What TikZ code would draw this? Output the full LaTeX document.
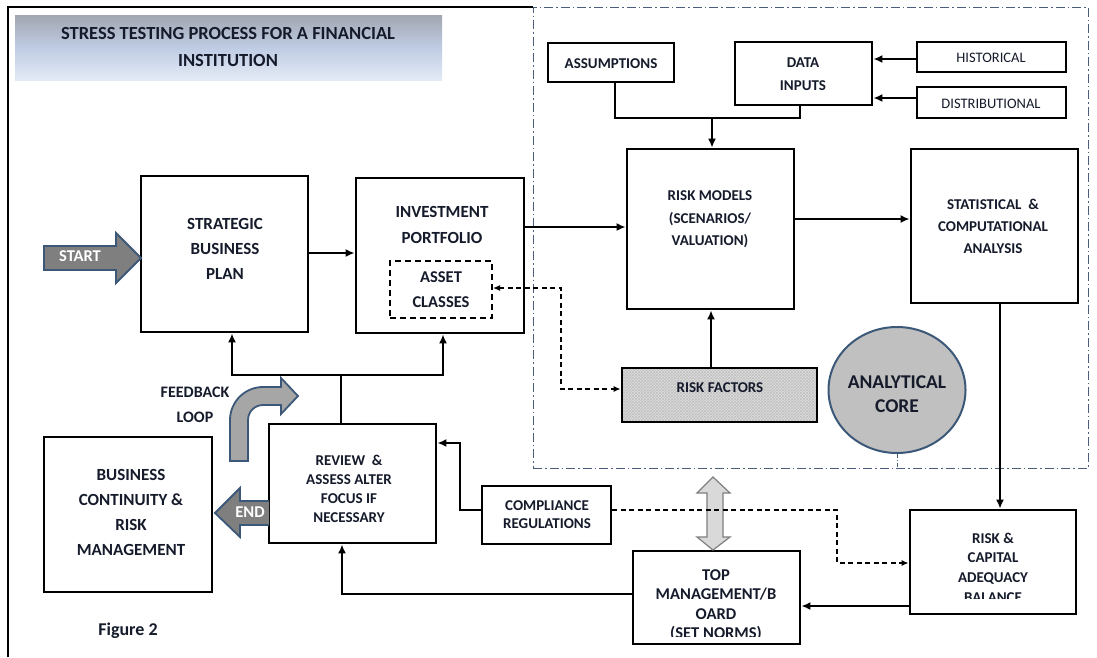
\documentclass[tikz,border=0pt]{standalone}
\usepackage{fontspec}
\setmainfont{Carlito}
\usetikzlibrary{arrows.meta,patterns,fit,shapes.geometric}
\definecolor{ddc}{HTML}{4A5E7A}
\definecolor{ablue}{HTML}{3B5878}
\definecolor{tgray}{HTML}{A2A6AF}
\definecolor{tblue}{HTML}{BFCCE4}
\definecolor{twhite}{HTML}{E4EAF5}
\definecolor{txt}{HTML}{151B2B}
\definecolor{agray}{HTML}{7F7F7F}
\definecolor{fgray}{HTML}{A6A6A6}
\definecolor{cgray}{HTML}{C0C0C0}
\definecolor{dgray}{HTML}{D9D9D9}
\newcommand{\fsz}[2]{\fontsize{#1}{#2}\selectfont}
\begin{document}
\begin{tikzpicture}[x=1pt,y=-1pt,
  box/.style={draw, line width=2.8pt, inner sep=0pt},
  thinbox/.style={draw, line width=1.3pt, inner sep=0pt},
  lbl/.style={align=center, inner sep=0pt, text=txt},
  conn/.style={line width=2.6pt, -{Latex[length=9pt,width=8pt]}},
  tip/.style={-{Latex[length=7pt,width=6pt]}},
  dsh/.style={line width=1.3pt, dash pattern=on 5pt off 3.5pt},
  ddot/.style={draw=ddc, line width=1pt, dash pattern=on 9pt off 3pt on 1.5pt off 3pt},
  blockarrow/.style={fill=agray, draw=ablue, line width=1.8pt, line join=miter},
]
\useasboundingbox (0,0) rectangle (1097,657);
\fill[white] (0,0) rectangle (1097,657);

% outer frame
\draw[line width=1.5pt] (8,657) -- (8,7) -- (533,7);

% title
\node[fit={(15,15) (442,80)}, inner sep=0pt, top color=tgray, bottom color=twhite, middle color=tblue] (title) {};
\node[lbl, font=\bfseries\fsz{18.5}{27}] (title-t) at (228,46.5) {STRESS TESTING PROCESS FOR A FINANCIAL\\INSTITUTION};

% analytical core region
\node[ddot, fit={(533,7) (1088,468)}, inner sep=0pt] (region) {};

% top row
\node[box, fit={(548,43) (674,82)}] (assum) {};
\node[lbl, font=\bfseries\fsz{15}{20}] (assum-t) at (611,64) {ASSUMPTIONS};
\node[box, fit={(735,42) (872,105)}] (data) {};
\node[lbl, font=\bfseries\fsz{15}{23}] (data-t) at (803,74.5) {DATA\\INPUTS};
\node[thinbox, fit={(917,42) (1066,72)}] (hist) {};
\node[lbl, font=\fsz{14.5}{18}] (hist-t) at (991,58) {HISTORICAL};
\node[thinbox, fit={(917,87) (1066,118)}] (dist) {};
\node[lbl, font=\fsz{14.5}{18}] (dist-t) at (991,104) {DISTRIBUTIONAL};

% middle row
\node[box, fit={(141,176) (308,332)}] (sbp) {};
\node[lbl, font=\bfseries\fsz{17}{25}] (sbp-t) at (225,249) {STRATEGIC\\BUSINESS\\PLAN};
\node[box, fit={(356,178) (524,333)}] (inv) {};
\node[lbl, font=\bfseries\fsz{17}{26}] (inv-t) at (442,225) {INVESTMENT\\PORTFOLIO};
\node[draw, line width=2pt, dash pattern=on 6pt off 4pt, inner sep=0pt, fit={(390,261) (492,318)}] (asset) {};
\node[lbl, font=\bfseries\fsz{16.5}{25}] (asset-t) at (441,289.5) {ASSET\\CLASSES};
\node[box, fit={(627,149) (794,309)}] (risk) {};
\node[lbl, font=\bfseries\fsz{15}{22.5}] (risk-t) at (710,219.5) {RISK MODELS\\(SCENARIOS/\\VALUATION)};
\node[box, fit={(911,149) (1078,303)}] (stat) {};
\node[lbl, font=\bfseries\fsz{15}{22}] (stat-t) at (993,226) {STATISTICAL~~\&\\COMPUTATIONAL\\ANALYSIS};

\node[box, fit={(622,368) (817,422)}, preaction={fill=gray!25}, pattern=crosshatch, pattern color=gray!50] (rf) {};
\node[lbl, font=\bfseries\fsz{15}{20}] (rf-t) at (720,388) {RISK FACTORS};

\node[ellipse, draw=ablue, line width=2pt, fill=cgray, minimum width=137pt, minimum height=126pt, inner sep=0pt] (core) at (897,390) {};
\node[lbl, font=\bfseries\fsz{19.5}{24}] (core-t) at (897,394) {ANALYTICAL\\CORE};

% lower row
\node[box, fit={(44,437) (212,592)}] (bcm) {};
\node[lbl, font=\bfseries\fsz{17}{25}] (bcm-t) at (131,512.5) {BUSINESS\\CONTINUITY \&\\RISK\\MANAGEMENT};
\node[box, fit={(269,424) (436,543)}] (review) {};
\node[lbl, font=\bfseries\fsz{15}{19}] (review-t) at (349,488.5) {REVIEW~~\&\\ASSESS ALTER\\FOCUS IF\\NECESSARY};
\node[box, fit={(482,486) (611,544)}] (comp) {};
\node[lbl, font=\bfseries\fsz{15}{18}] (comp-t) at (547,515) {COMPLIANCE\\REGULATIONS};
\node[box, fit={(910,510) (1076,614)}] (rcap) {};
\node[lbl, font=\bfseries\fsz{15}{19.5}] (rcap-t) at (993,558.5) {RISK \&\\CAPITAL\\ADEQUACY};
\begin{scope}
  \clip (912,560) rectangle (1074,598.5);
  \node[lbl, font=\bfseries\fsz{15}{19.5}] (rcap-t2) at (993,597.5) {BALANCE};
\end{scope}
\node[box, fit={(633,551) (800,644)}] (top) {};
\node[lbl, font=\bfseries\fsz{16.5}{19.5}] (top-t) at (716,594.5) {TOP\\MANAGEMENT/B\\OARD};
\begin{scope}
  \clip (635,620) rectangle (798,636);
  \node[lbl, font=\bfseries\fsz{16.5}{19.5}] (top-t2) at (716,634) {(SET NORMS)};
\end{scope}

\node[lbl, font=\bfseries\fsz{16}{25}] (fb-t) at (195,404.5) {FEEDBACK\\LOOP};
\node[lbl, font=\bfseries\fsz{18}{20}] (fig-t) at (128,631) {Figure 2};

% ---- block arrows ----
\draw[blockarrow] (44,246) -- (116,246) -- (116,233) -- (141,258) -- (116,283) -- (116,270) -- (44,270) -- cycle;
\node[font=\bfseries\fsz{16.5}{20}, text=white, inner sep=0pt] (start-t) at (80,256) {START};

\draw[blockarrow] (269,501) -- (240,501) -- (240,488) -- (215,513) -- (240,537) -- (240,525) -- (269,525);
\node[font=\bfseries\fsz{16.5}{20}, text=white, inner sep=0pt] (end-t) at (250,512) {END};

\draw[blockarrow, fill=fgray] (230,461) -- (230,420) .. controls (230,401.8) and (244.8,387) .. (263,387)
  -- (281,387) -- (281,378) -- (298,396) -- (281,414) -- (281,405) -- (263,405)
  .. controls (254.7,405) and (248,411.7) .. (248,420) -- (248,461) -- cycle;

\draw[fill=dgray, draw=agray, line width=1.2pt] (713,477) -- (730,493) -- (723,493) -- (723,537) -- (730,537)
  -- (713,550) -- (697,537) -- (707,537) -- (707,493) -- (697,493) -- cycle;

% ---- connectors ----
\draw[conn, line width=1.8pt] (hist.west |- 0,59) -- (data.east |- 0,59);
\draw[conn, line width=1.8pt] (dist.west |- 0,98) -- (data.east |- 0,98);
\coordinate (merge) at (712,118);
\draw[line width=2.8pt] (assum.south -| 615,0) -- (615,118) -- (800,118) -- (data.south -| 800,0);
\draw[conn] (merge) -- (risk.north -| merge);

\draw[conn] (sbp.east |- 0,253) -- (inv.west |- 0,253);
\draw[conn] (inv.east |- 0,227) -- (risk.west |- 0,227);
\draw[conn] (risk.east |- 0,219) -- (stat.west |- 0,219);
\draw[conn] (rf.north -| 711,0) -- (risk.south -| 711,0);
\draw[dsh, {Latex[length=7pt,width=6pt]}-{Latex[length=7pt,width=6pt]}] (asset.east |- 0,288) -- (561,288) -- (561,389) -- (rf.west |- 0,389);

\coordinate (fb) at (341,375);
\draw[line width=2.6pt] (review.north -| fb) -- (fb);
\draw[conn] (fb) -| (sbp.south -| 232,0);
\draw[conn] (fb) -| (inv.south -| 443,0);

\draw[conn] (stat.south -| 1000,0) -- (rcap.north -| 1000,0);
\draw[conn] (rcap.west |- 0,606) -- (top.east |- 0,606);
\draw[conn] (top.west |- 0,594) -| (review.south -| 342,0);
\draw[conn] (comp.west |- 0,510) -- (460,510) |- (review.east |- 0,443);
\draw[dsh, tip] (comp.east |- 0,510) -- (837,510) |- (rcap.west |- 0,563);

\draw[draw=ddc, line width=0.8pt, dash pattern=on 4pt off 2pt on 1pt off 2pt] (core.south) -- (core.south |- region.south);
\end{tikzpicture}
\end{document}
